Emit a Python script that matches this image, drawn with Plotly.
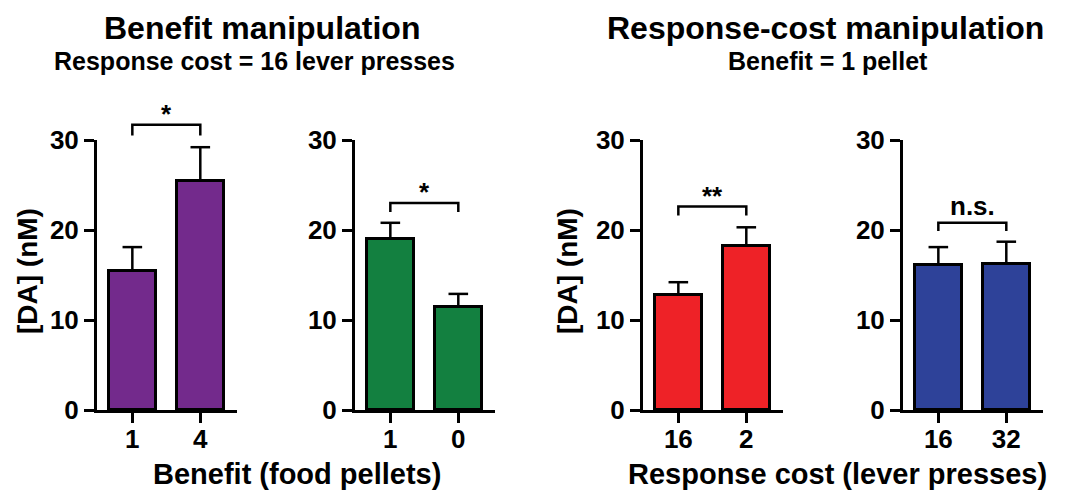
import plotly.graph_objects as go

# ---------------- data ----------------
panel_ticks = [["1", "4"], ["1", "0"], ["16", "2"], ["16", "32"]]
panel_means = [[15.4, 25.4], [19.0, 11.4], [12.8, 18.2], [16.1, 16.2]]
panel_sem = [[2.7, 3.8], [1.8, 1.5], [1.4, 2.1], [2.0, 2.5]]
panel_colors = ["#732A8C", "#138040", "#EE2227", "#2E4299"]
sig_labels = ["*", "*", "**", "n.s."]
bracket_top = [31.7, 23.0, 22.6, 20.8]
bracket_leg = [30.5, 22.0, 21.6, 19.9]
y_ticks = [0, 10, 20, 30]

W, H = 1065, 496
FONT = "Liberation Sans, Arial, sans-serif"

# layout geometry (pixels)
x_px = [(97, 237), (355, 495), (643, 783), (903, 1043)]
y_px = (140, 410)
ydom = [1 - y_px[1] / H, 1 - y_px[0] / H]
yrange = [0, 30]
xrange_ = [-0.52, 1.54]

fig = go.Figure()


def y_to_paper(v):
    return ydom[0] + (v - yrange[0]) / (yrange[1] - yrange[0]) * (ydom[1] - ydom[0])


def x_to_paper(i, v):
    d0, d1 = x_px[i][0] / W, x_px[i][1] / W
    return d0 + (v - xrange_[0]) / (xrange_[1] - xrange_[0]) * (d1 - d0)


tick_font = dict(family=FONT, size=26, color="black", weight="bold")

for i in range(4):
    ax = "" if i == 0 else str(i + 1)
    fig.add_trace(go.Bar(
        x=[0, 1], y=panel_means[i],
        width=0.69,
        marker=dict(color=panel_colors[i], line=dict(color="black", width=3)),
        error_y=dict(type="data", array=panel_sem[i], arrayminus=[0, 0], symmetric=False,
                     color="black", thickness=2.5, width=0),
        xaxis="x" + ax, yaxis="y" + ax, showlegend=False, hoverinfo="skip",
    ))
    # error-bar caps (top only)
    fig.add_trace(go.Scatter(
        x=[0, 1], y=[m + s for m, s in zip(panel_means[i], panel_sem[i])],
        mode="markers",
        marker=dict(symbol="line-ew", size=14, line=dict(color="black", width=2.5)),
        xaxis="x" + ax, yaxis="y" + ax, showlegend=False, hoverinfo="skip",
        cliponaxis=False,
    ))
    xa = dict(domain=[x_px[i][0] / W, x_px[i][1] / W], range=xrange_,
              tickvals=[0, 1], ticktext=panel_ticks[i],
              ticks="outside", ticklen=10, tickwidth=3, tickcolor="black",
              showline=True, linewidth=3, linecolor="black", automargin=False,
              showgrid=False, zeroline=False, anchor="y" + ax, fixedrange=True,
              ticklabelstandoff=-6, tickfont=tick_font)
    ya = dict(domain=ydom, range=yrange, tickvals=y_ticks,
              ticks="outside", ticklen=10, tickwidth=3, tickcolor="black",
              showline=True, linewidth=3, linecolor="black", automargin=False,
              showgrid=False, zeroline=False, anchor="x" + ax, fixedrange=True,
              tickfont=tick_font)
    fig.layout["xaxis" + ax] = xa
    fig.layout["yaxis" + ax] = ya

    # significance bracket
    xa0, xa1 = x_to_paper(i, 0), x_to_paper(i, 1)
    yt, yl = y_to_paper(bracket_top[i]), y_to_paper(bracket_leg[i])
    fig.add_shape(type="path", xref="paper", yref="paper",
                  path=f"M {xa0} {yl} L {xa0} {yt} L {xa1} {yt} L {xa1} {yl}",
                  line=dict(color="black", width=2.5))
    is_star = "*" in sig_labels[i]
    fig.add_annotation(x=(xa0 + xa1) / 2, y=yt, xref="paper", yref="paper",
                       text=sig_labels[i], showarrow=False,
                       xanchor="center", yanchor="bottom",
                       yshift=-6 if is_star else 0,
                       font=dict(family=FONT, size=26, color="black", weight="bold"))

ann_font = dict(family=FONT, color="black", weight="bold")


def label(x, y, text, size, angle=0):
    fig.add_annotation(x=x / W, y=1 - y / H, xref="paper", yref="paper",
                       text=text, textangle=angle, showarrow=False,
                       xanchor="center", yanchor="middle",
                       font=dict(size=size, **ann_font))


# y-axis titles
for xp in (27, 567):
    label(xp, 271, "[DA] (nM)", 28, -90)
# x-axis titles
label(297, 474, "Benefit (food pellets)", 29)
label(837, 474, "Response cost (lever presses)", 29)
# titles
label(262, 28, "Benefit manipulation", 32)
label(254, 61, "Response cost = 16 lever presses", 25)
label(825, 28, "Response-cost manipulation", 32)
label(828, 61, "Benefit = 1 pellet", 25)

fig.update_layout(width=W, height=H, margin=dict(l=0, r=0, t=0, b=0, autoexpand=False),
                  paper_bgcolor="white", plot_bgcolor="white", bargap=0)
fig.write_html("out.html")
